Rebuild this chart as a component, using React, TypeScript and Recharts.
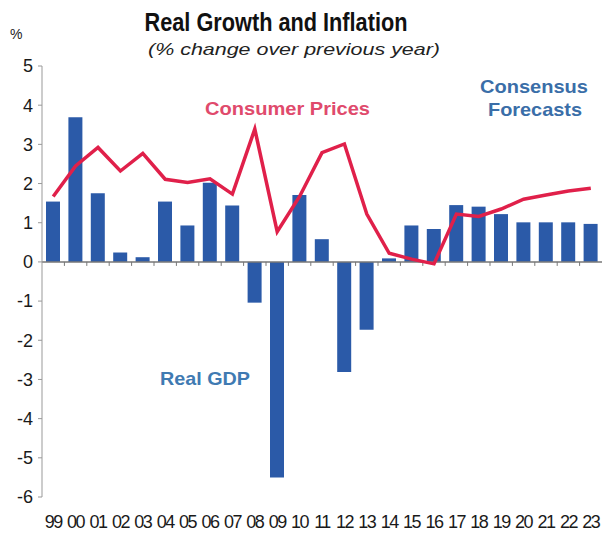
import React from "react";
import {
  ComposedChart,
  Bar,
  Line,
  XAxis,
  YAxis,
  ReferenceLine,
} from "recharts";

const years = [
  "99", "00", "01", "02", "03", "04", "05", "06", "07", "08", "09", "10", "11",
  "12", "13", "14", "15", "16", "17", "18", "19", "20", "21", "22", "23",
];

const realGdp = [
  1.54, 3.69, 1.75, 0.24, 0.12, 1.54, 0.93, 2.02, 1.44, -1.04, -5.5, 1.71, 0.58,
  -2.81, -1.73, 0.09, 0.93, 0.84, 1.45, 1.41, 1.22, 1.01, 1.01, 1.01, 0.97,
];

const consumerPrices = [
  1.67, 2.45, 2.92, 2.32, 2.77, 2.11, 2.03, 2.12, 1.73, 3.39, 0.77, 1.67, 2.79,
  3.01, 1.22, 0.22, 0.07, -0.05, 1.22, 1.16, 1.35, 1.6, 1.71, 1.81, 1.88,
];

const yTicks = [5, 4, 3, 2, 1, 0, -1, -2, -3, -4, -5, -6];

const data = years.map((year, i) => ({
  year,
  gdp: realGdp[i],
  cpi: consumerPrices[i],
}));

const FONT = "'Liberation Sans', Arial, Helvetica, sans-serif";

const XTick = (props: any) => {
  const { x, y, payload } = props;
  return (
    <text
      x={x}
      y={y + 23}
      textAnchor="middle"
      fontFamily={FONT}
      fontSize={18}
      letterSpacing={-1.5}
      fill="#1a1a1a"
    >
      {payload.value}
    </text>
  );
};

const ZeroLine = (props: any) => {
  const { x1, x2, y1 } = props;
  const step = (x2 - x1) / years.length;
  return (
    <g>
      <line x1={x1} x2={x2} y1={y1} y2={y1} stroke="#777" strokeWidth={1.5} />
      {years.slice(1).map((_, i) => (
        <line
          key={i}
          x1={x1 + step * (i + 1)}
          x2={x1 + step * (i + 1)}
          y1={y1}
          y2={y1 + 4}
          stroke="#777"
          strokeWidth={1}
        />
      ))}
    </g>
  );
};

export default function App() {
  return (
    <div
      style={{
        position: "absolute",
        left: 0,
        top: 0,
        width: 602,
        height: 533,
        background: "#fff",
      }}
    >
      <ComposedChart
        width={602}
        height={533}
        data={data}
        margin={{ top: 66, right: 0, bottom: 0, left: 0 }}
        barCategoryGap={4}
      >
        <XAxis
          dataKey="year"
          axisLine={false}
          tickLine={false}
          interval={0}
          height={36}
          tick={<XTick />}
        />
        <YAxis
          width={42}
          domain={[-6, 5]}
          ticks={yTicks}
          interval={0}
          axisLine={{ stroke: "#999" }}
          tickLine={{ stroke: "#999" }}
          tickSize={4}
          tickMargin={5}
          tick={{ fill: "#1a1a1a", fontSize: 18, fontFamily: FONT }}
        />
        <Bar
          dataKey="gdp"
          fill="#2b5aa8"
          barSize={14}
          isAnimationActive={false}
        />
        <ReferenceLine y={0} shape={<ZeroLine />} />
        <Line
          dataKey="cpi"
          stroke="#e0204a"
          strokeWidth={3.5}
          dot={false}
          type="linear"
          isAnimationActive={false}
        />
      </ComposedChart>
      <svg
        width={602}
        height={533}
        style={{ position: "absolute", left: 0, top: 0, pointerEvents: "none" }}
      >
        <text
          x={276}
          y={31}
          textAnchor="middle"
          fontFamily={FONT}
          fontWeight="bold"
          fontSize={26}
          textLength={263}
          lengthAdjust="spacingAndGlyphs"
          fill="#111"
        >
          Real Growth and Inflation
        </text>
        <text
          x={294}
          y={55}
          textAnchor="middle"
          fontFamily={FONT}
          fontStyle="italic"
          fontSize={17}
          textLength={292}
          lengthAdjust="spacingAndGlyphs"
          fill="#222"
        >
          (% change over previous year)
        </text>
        <text x={10} y={39} fontFamily={FONT} fontSize={14} fill="#222">
          %
        </text>
        <text
          x={205}
          y={115}
          fontFamily={FONT}
          fontWeight="bold"
          fontSize={19}
          textLength={165}
          lengthAdjust="spacingAndGlyphs"
          fill="#e04a6c"
        >
          Consumer Prices
        </text>
        <text
          x={534}
          y={93}
          textAnchor="middle"
          fontFamily={FONT}
          fontWeight="bold"
          fontSize={19}
          textLength={108}
          lengthAdjust="spacingAndGlyphs"
          fill="#3a6ea8"
        >
          Consensus
        </text>
        <text
          x={535}
          y={116}
          textAnchor="middle"
          fontFamily={FONT}
          fontWeight="bold"
          fontSize={19}
          textLength={94}
          lengthAdjust="spacingAndGlyphs"
          fill="#3a6ea8"
        >
          Forecasts
        </text>
        <text
          x={160}
          y={385}
          fontFamily={FONT}
          fontWeight="bold"
          fontSize={19}
          textLength={90}
          lengthAdjust="spacingAndGlyphs"
          fill="#3f7ab2"
        >
          Real GDP
        </text>
      </svg>
    </div>
  );
}
